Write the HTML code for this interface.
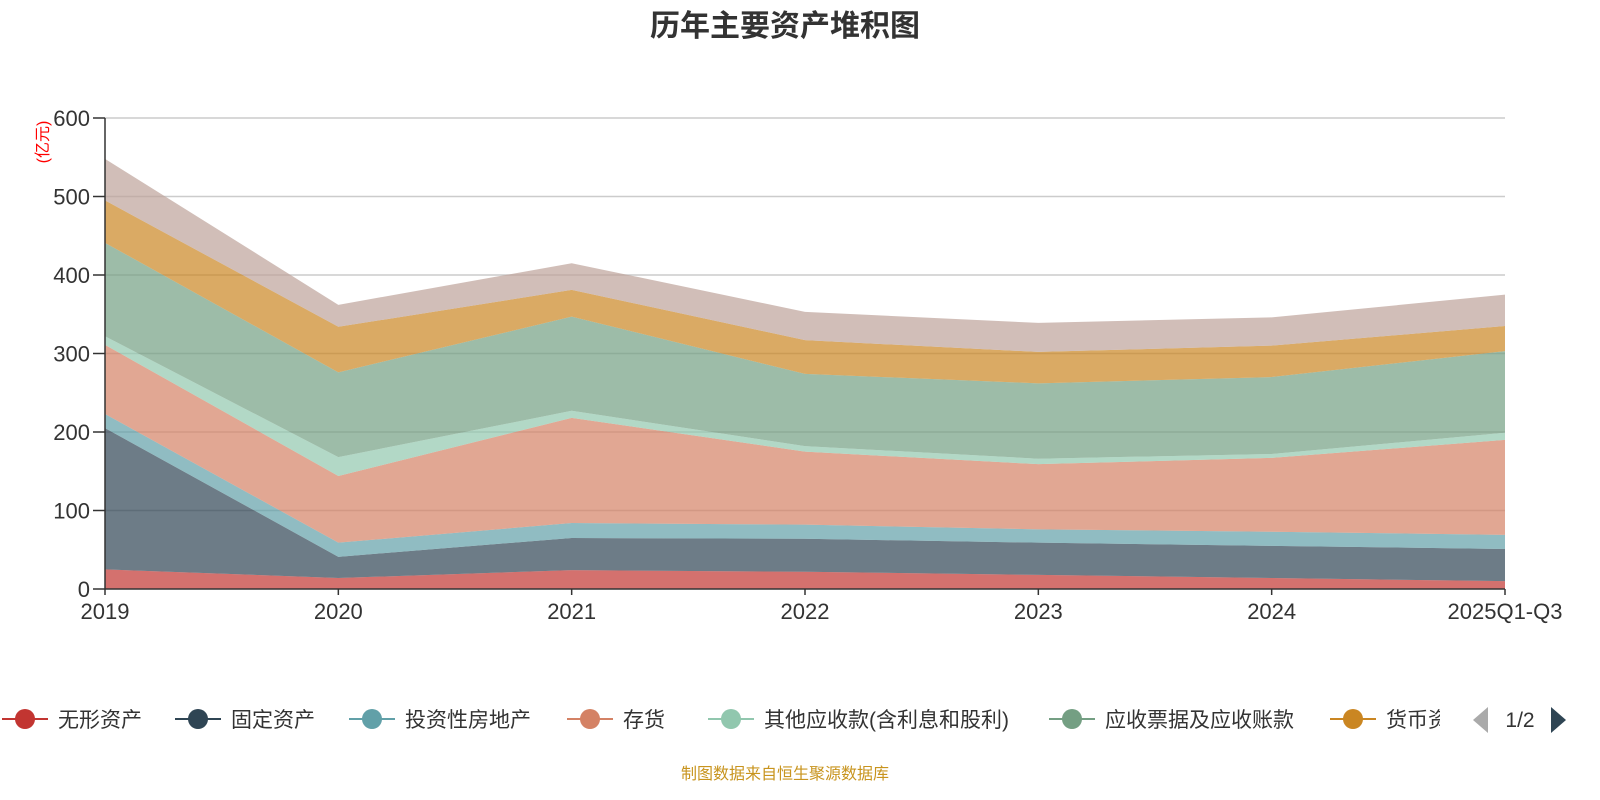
<!DOCTYPE html>
<html><head><meta charset="utf-8"><style>
body{margin:0;background:#fff;}
svg{display:block;font-family:"Liberation Sans","Noto Sans CJK SC",sans-serif;}
</style></head><body>
<svg id="chart" width="1600" height="800">
<text x="785" y="36" text-anchor="middle" font-size="30" font-weight="bold" fill="#333">历年主要资产堆积图</text>
<text transform="translate(48,142) rotate(-90)" text-anchor="middle" font-size="16" fill="red">(亿元)</text>
<g id="grid"></g><g id="areas"></g><g id="axes"></g><g id="legend"></g>
<text x="785" y="779" text-anchor="middle" font-size="16" fill="#c8941e">制图数据来自恒生聚源数据库</text>
</svg>
<script>
const categories=["2019","2020","2021","2022","2023","2024","2025Q1-Q3"];
const seriesNames=["无形资产","固定资产","投资性房地产","存货","其他应收款(含利息和股利)","应收票据及应收账款","货币资金","其他"];
const s0=[25,14,24,22,18,14,10];
const s1=[180,27,41,42,41,41,41];
const s2=[18,18,19,18,17,18,18];
const s3=[88,85,134,93,83,94,121];
const s4=[11,24,9,7,7,5,9];
const s5=[119,108,120,92,96,98,104];
const s6=[54,58,34,43,40,40,32];
const s7=[53,28,34,36,37,36,40];
const yTicks=[0,100,200,300,400,500,600];
const series=[s0,s1,s2,s3,s4,s5,s6,s7];
const colors=["#c23531","#2f4554","#61a0a8","#d48265","#91c7ae","#749f83","#ca8622","#bda29a"];
const X0=105,X1=1505,Y0=589,Y1=118,YMAX=600;
const xs=i=>X0+i*(X1-X0)/(categories.length-1);
const ys=v=>Y0-v/YMAX*(Y0-Y1);
const NS="http://www.w3.org/2000/svg";
function mk(t,a,p){const e=document.createElementNS(NS,t);for(const k in a)e.setAttribute(k,a[k]);p.appendChild(e);return e;}
const grid=document.getElementById('grid'),areas=document.getElementById('areas'),axes=document.getElementById('axes'),leg=document.getElementById('legend');
yTicks.forEach(t=>{
 if(t>0){const l=mk('line',{x1:X0,x2:X1,y1:ys(t),y2:ys(t),stroke:'#ccc','stroke-width':1.5},grid);
 
 }
 mk('line',{x1:X0-12,x2:X0,y1:ys(t),y2:ys(t),stroke:'#333','stroke-width':1.5},axes);
 const tx=mk('text',{x:X0-15,y:ys(t)+8,'text-anchor':'end','font-size':22,fill:'#333'},axes);tx.textContent=t;
 
 
});
let base=categories.map(()=>0);
series.forEach((s,k)=>{
 const top=base.map((b,i)=>b+s[i]);
 let d='M'+top.map((v,i)=>xs(i)+','+ys(v)).join(' L');
 for(let i=categories.length-1;i>=0;i--)d+=' L'+xs(i)+','+ys(base[i]);
 const p=mk('path',{d:d+'Z',fill:colors[k],'fill-opacity':0.7},areas);
 
 
 base=top;
});
mk('line',{x1:X0,x2:X0,y1:Y1,y2:Y0,stroke:'#333','stroke-width':1.5},axes);
mk('line',{x1:X0,x2:X1,y1:Y0,y2:Y0,stroke:'#333','stroke-width':1.5},axes);
categories.forEach((c,i)=>{
 mk('line',{x1:xs(i),x2:xs(i),y1:Y0,y2:Y0+6,stroke:'#333','stroke-width':1.5},axes);
 const tx=mk('text',{x:xs(i),y:619,'text-anchor':'middle','font-size':22,fill:'#333'},axes);tx.textContent=c;
 
 
});
const lx=[25,198,372,590,731,1072,1353];
lx.forEach((x,k)=>{
 const g=mk('g',{},leg);
 
 
 mk('line',{x1:x-23,x2:x+23,y1:719,y2:719,stroke:colors[k],'stroke-width':2},g);
 mk('circle',{cx:x,cy:719,r:10,fill:colors[k]},g);
 const t=mk('text',{x:x+33,y:727,'font-size':21,fill:'#333'},g);t.textContent=seriesNames[k];
});
mk('rect',{x:1440,y:700,width:30,height:40,fill:'#fff'},leg);
const pl=mk('polygon',{points:'1488,707 1488,733 1473,720',fill:'#aaa'},leg);


const pt=mk('text',{x:1520,y:727,'text-anchor':'middle','font-size':21,fill:'#333'},leg);pt.textContent='1/2';
const pr=mk('polygon',{points:'1551,707 1551,733 1566,720',fill:'#2f4554'},leg);


</script>
</body></html>
